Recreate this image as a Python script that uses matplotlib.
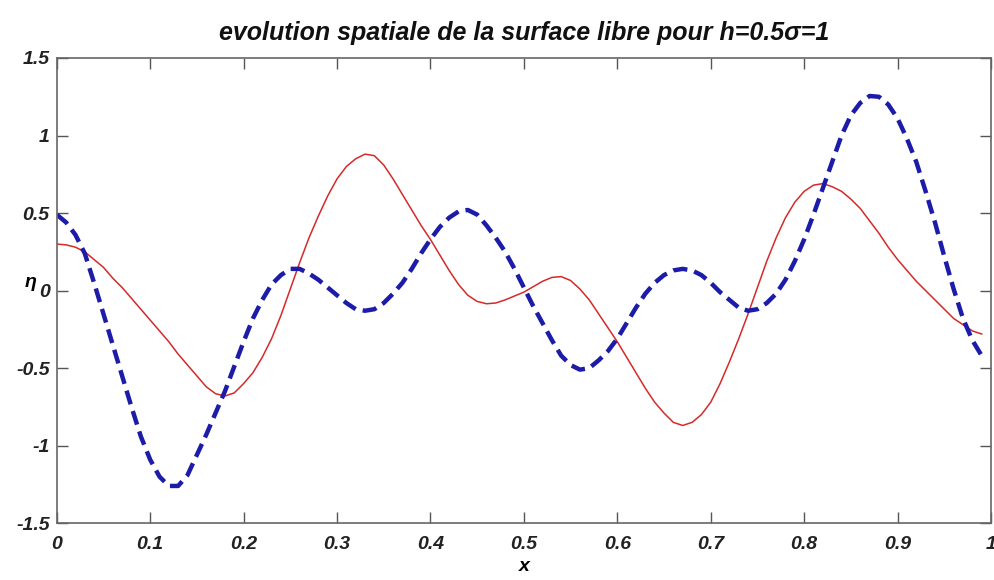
import numpy as np
import matplotlib
matplotlib.use("Agg")
import matplotlib.pyplot as plt

plt.rcParams['font.family'] = ['Liberation Sans', 'DejaVu Sans']

# values, x = 0, 0.01, ..., 0.99
x = np.round(np.arange(0, 1.0, 0.01), 2)
eta_red = [0.30, 0.295, 0.28, 0.25, 0.20, 0.15, 0.08, 0.02, -0.05, -0.12,
           -0.19, -0.26, -0.33, -0.41, -0.48, -0.55, -0.62, -0.665, -0.68, -0.66,
           -0.60, -0.53, -0.43, -0.31, -0.16, 0.01, 0.18, 0.34, 0.48, 0.61,
           0.72, 0.80, 0.85, 0.88, 0.87, 0.81, 0.72, 0.62, 0.52, 0.42,
           0.33, 0.23, 0.13, 0.04, -0.03, -0.07, -0.085, -0.08, -0.06, -0.035,
           -0.01, 0.025, 0.06, 0.085, 0.09, 0.065, 0.01, -0.06, -0.15, -0.24,
           -0.33, -0.43, -0.53, -0.63, -0.72, -0.79, -0.85, -0.87, -0.85, -0.80,
           -0.72, -0.60, -0.46, -0.31, -0.15, 0.02, 0.19, 0.34, 0.47, 0.57,
           0.64, 0.68, 0.69, 0.67, 0.64, 0.59, 0.53, 0.45, 0.37, 0.28,
           0.20, 0.13, 0.06, 0.00, -0.06, -0.12, -0.18, -0.22, -0.26, -0.28]
eta_blue = [0.49, 0.44, 0.36, 0.24, 0.05, -0.15, -0.35, -0.55, -0.75, -0.94,
            -1.09, -1.20, -1.26, -1.26, -1.19, -1.06, -0.93, -0.79, -0.65, -0.49,
            -0.33, -0.18, -0.06, 0.04, 0.10, 0.14, 0.14, 0.11, 0.07, 0.02,
            -0.03, -0.08, -0.12, -0.13, -0.12, -0.08, -0.02, 0.05, 0.14, 0.24,
            0.33, 0.41, 0.47, 0.51, 0.52, 0.49, 0.42, 0.34, 0.25, 0.14,
            0.02, -0.10, -0.21, -0.32, -0.42, -0.48, -0.51, -0.50, -0.45, -0.39,
            -0.31, -0.21, -0.11, -0.02, 0.05, 0.10, 0.13, 0.14, 0.13, 0.10,
            0.05, -0.01, -0.06, -0.11, -0.13, -0.12, -0.08, -0.02, 0.07, 0.19,
            0.33, 0.49, 0.66, 0.83, 1.00, 1.13, 1.21, 1.255, 1.25, 1.20,
            1.11, 0.98, 0.83, 0.64, 0.44, 0.22, 0.01, -0.18, -0.32, -0.42]

xticks = np.round(np.arange(0, 1.01, 0.1), 1)
xticklabels = ['0', '0.1', '0.2', '0.3', '0.4', '0.5', '0.6', '0.7', '0.8', '0.9', '1']
yticks = [-1.5, -1, -0.5, 0, 0.5, 1, 1.5]
yticklabels = ['-1.5', '-1', '-0.5', '0', '0.5', '1', '1.5']

fig = plt.figure(figsize=(9.95, 5.8), dpi=100)
ax = fig.add_axes([0.057, 0.098, 0.939, 0.802])

ax.plot(x, eta_red, color='#d42a2a', lw=1.1)
ax.plot(x, eta_blue, color='#1c1ca8', lw=3.2, dashes=(3.2, 1.6))

ax.set_xlim(0, 1)
ax.set_ylim(-1.5, 1.5)
ax.set_xticks(xticks)
ax.set_xticklabels(xticklabels)
ax.set_yticks(yticks)
ax.set_yticklabels(yticklabels)
ax.tick_params(direction='in', length=8, width=1, color='#555555',
               top=True, right=True)
ax.tick_params(axis='x', pad=9)
ax.tick_params(axis='y', pad=5)
for lab in ax.get_xticklabels() + ax.get_yticklabels():
    lab.set_fontsize(14)
    lab.set_fontweight('bold')
    lab.set_fontstyle('italic')
    lab.set_color('#222222')
for sp in ax.spines.values():
    sp.set_color('#666666')
    sp.set_linewidth(1.2)

ax.set_title('evolution spatiale de la surface libre pour h=0.5σ=1',
             fontsize=18, fontweight='bold', fontstyle='italic', pad=13,
             color='#111111')
ax.set_xlabel('x', fontsize=14, fontweight='bold', fontstyle='italic', labelpad=4)
ax.set_ylabel('η', fontsize=14, fontweight='bold', fontstyle='italic',
              rotation=0)
ax.yaxis.set_label_coords(-0.028, 0.5)

fig.savefig('out.png', dpi=100)
